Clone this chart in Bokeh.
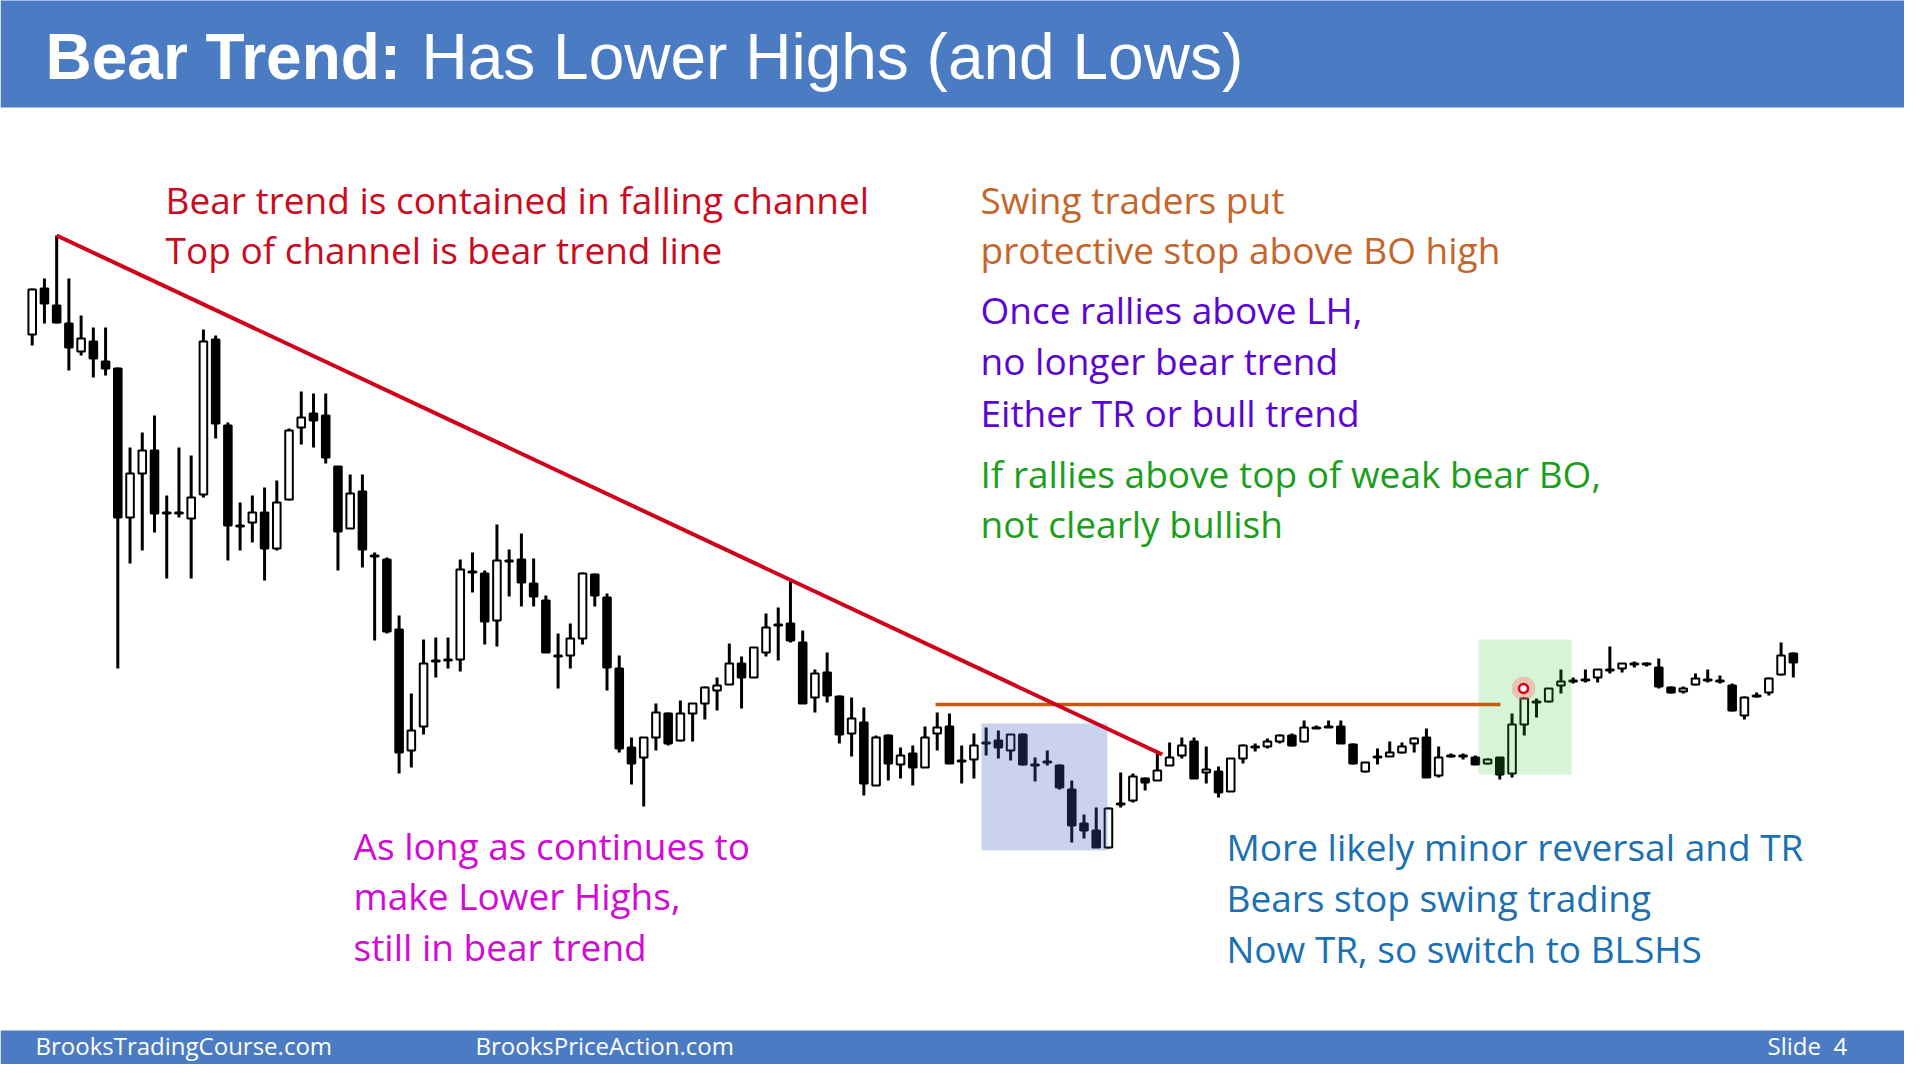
from bokeh.plotting import figure
from bokeh.models import Range1d, ColumnDataSource
from bokeh.embed import file_html
from bokeh.resources import INLINE
from bokeh.core.properties import value

# ---------------- data (bar number, OHLC in price points) ----------------
bars = list(range(1, 146))
opens = [666, 712, 695, 677, 649, 659, 639, 632, 483, 527,
         550, 488, 488, 482, 506, 661, 575, 475, 478, 488,
         452, 501, 573, 587, 585, 534, 472, 509, 445, 441,
         371, 250, 274, 340, 340, 341, 429, 427, 380, 440,
         441, 417, 400, 345, 345, 362, 426, 403, 332, 253,
         243, 263, 287, 260, 287, 297, 310, 316, 337, 323,
         348, 375, 377, 358, 303, 328, 304, 267, 278, 215,
         265, 236, 247, 233, 267, 274, 240, 241, 258, 260,
         250, 266, 236, 239, 235, 211, 177, 170, 153, 197,
         200, 222, 220, 235, 245, 259, 228, 229, 209, 242,
         254, 254, 259, 265, 259, 273, 274, 274, 256, 229,
         244, 244, 248, 257, 263, 225, 245, 245, 243, 237,
         243, 227, 276, 299, 299, 315, 320, 321, 323, 331,
         332, 337, 337, 333, 313, 309, 316, 321, 320, 315,
         285, 305, 308, 326, 347]
highs = [712, 722, 765, 722, 685, 673, 673, 633, 553, 568,
         585, 505, 553, 545, 671, 665, 578, 498, 505, 513,
         520, 572, 609, 607, 607, 534, 526, 526, 448, 443,
         385, 307, 361, 363, 363, 441, 448, 430, 476, 451,
         467, 442, 405, 367, 377, 428, 427, 407, 345, 263,
         263, 297, 288, 300, 297, 314, 323, 357, 344, 353,
         387, 393, 419, 370, 331, 348, 305, 303, 293, 265,
         266, 253, 255, 274, 288, 287, 255, 267, 273, 270,
         266, 267, 243, 250, 236, 220, 186, 193, 193, 228,
         227, 223, 247, 258, 263, 263, 254, 234, 242, 256,
         257, 262, 266, 267, 280, 275, 280, 280, 257, 238,
         252, 259, 258, 263, 272, 254, 247, 247, 245, 242,
         243, 287, 303, 302, 312, 331, 323, 331, 331, 354,
         337, 339, 338, 342, 314, 314, 327, 331, 325, 317,
         304, 308, 323, 358, 348]
lows = [655, 677, 677, 630, 645, 623, 625, 332, 437, 450,
        468, 422, 483, 422, 503, 562, 440, 450, 458, 420,
        450, 500, 556, 553, 537, 430, 472, 433, 360, 367,
        227, 233, 266, 323, 332, 329, 408, 356, 354, 404,
        394, 394, 348, 312, 332, 356, 394, 310, 248, 216,
        194, 250, 255, 259, 259, 281, 290, 316, 292, 323,
        344, 340, 358, 297, 288, 298, 257, 244, 205, 215,
        220, 222, 215, 233, 250, 237, 217, 222, 245, 242,
        240, 235, 219, 235, 211, 158, 162, 153, 152, 193,
        198, 210, 220, 235, 242, 222, 217, 203, 209, 237,
        249, 252, 257, 254, 258, 272, 273, 257, 236, 228,
        236, 244, 247, 248, 223, 223, 243, 241, 236, 236,
        221, 223, 265, 283, 298, 307, 317, 318, 318, 327,
        328, 333, 334, 312, 307, 307, 315, 318, 317, 289,
        281, 303, 305, 325, 323]
closes = [711, 697, 678, 653, 662, 642, 632, 483, 527, 550,
          487, 487, 487, 503, 659, 577, 475, 474, 488, 452,
          498, 570, 583, 580, 543, 469, 507, 451, 444, 369,
          248, 270, 337, 339, 341, 431, 428, 379, 440, 439,
          418, 404, 348, 344, 362, 427, 405, 333, 252, 237,
          263, 288, 257, 287, 297, 313, 315, 337, 323, 353,
          373, 376, 360, 297, 327, 305, 266, 282, 217, 263,
          237, 245, 233, 263, 273, 237, 239, 255, 257, 253,
          266, 236, 235, 238, 213, 175, 170, 153, 192, 196,
          224, 218, 230, 243, 255, 222, 231, 208, 242, 255,
          253, 259, 265, 255, 273, 272, 273, 257, 237, 238,
          243, 248, 254, 262, 223, 243, 244, 244, 236, 241,
          226, 276, 302, 298, 312, 319, 319, 320, 331, 330,
          337, 336, 336, 314, 308, 312, 322, 320, 319, 290,
          303, 304, 322, 345, 338]

# annotations on the chart (bar / price units)
trend_x = [3, 93.4]
trend_y = [765, 246]
stop_x = [74.86, 121.05]
stop_y = [296, 296]
blue_zone = dict(left=78.62, right=88.92, bottom=150, top=277)
green_zone = dict(left=119.26, right=126.86, bottom=226, top=361)
marker_bar, marker_price = [122.94], [312]

title_bold = "Bear Trend:"
title_rest = "Has Lower Highs (and Lows)"
notes = [
    (["Bear trend is contained in falling channel", "Top of channel is bear trend line"], "#cc0a1e"),
    (["Swing traders put", "protective stop above BO high"], "#c5652a"),
    (["Once rallies above LH,", "no longer bear trend", "Either TR or bull trend"], "#5a05d2"),
    (["If rallies above top of weak bear BO,", "not clearly bullish"], "#1c9e1c"),
    (["As long as continues to", "make Lower Highs,", "still in bear trend"], "#d10ad6"),
    (["More likely minor reversal and TR", "Bears stop swing trading", "Now TR, so switch to BLSHS"], "#1a70b2"),
]
footer_texts = ["BrooksTradingCourse.com", "BrooksPriceAction.com", "Slide\u00a0\u00a04"]

# ---------------- figure ----------------
BLUE = "#4a7bc3"
FONT = "Open Sans"
W, H = 1904, 1064

p = figure(width=W, height=H, output_backend="svg", toolbar_location=None,
           x_axis_type=None, y_axis_type=None,
           x_range=Range1d((0 - 19.47) / 12.23, (W - 19.47) / 12.23),
           y_range=Range1d(1000 - H, 1000),
           min_border=0, outline_line_color=None, background_fill_color="white")
p.grid.visible = False
# slide layout coordinates (pixels, y downward)
p.extra_x_ranges = {"sx": Range1d(0, W)}
p.extra_y_ranges = {"sy": Range1d(H, 0)}

# header / footer bands
p.quad(left=[0], right=[1920], top=[-5], bottom=[107], fill_color=BLUE, line_color=None,
       x_range_name="sx", y_range_name="sy")
p.quad(left=[0], right=[1920], top=[1030], bottom=[1085], fill_color=BLUE, line_color=None,
       x_range_name="sx", y_range_name="sy")

p.text(x=[45], y=[56], text=[title_bold], text_font=value("Liberation Sans"), text_font_style="bold",
       text_font_size="64px", text_color="white", text_baseline="alphabetic",
       x_range_name="sx", y_range_name="sy")
p.text(x=[421], y=[56], text=[title_rest], text_font=value("Liberation Sans"),
       text_font_size="64px", text_color="white", text_baseline="alphabetic",
       x_range_name="sx", y_range_name="sy")

# candles
src = ColumnDataSource(dict(
    x=bars, o=opens, h=highs, l=lows, c=closes,
    top=[max(o, c) for o, c in zip(opens, closes)],
    bottom=[min(o, c) for o, c in zip(opens, closes)],
    fill=["white" if c > o else "black" for o, c in zip(opens, closes)],
))
p.segment(x0="x", y0="l", x1="x", y1="h", line_color="black", line_width=3, source=src)
p.vbar(x="x", width=0.62, top="top", bottom="bottom", fill_color="fill",
       line_color="black", line_width=2, source=src)

# shaded zones (over the candles)
p.quad(fill_color="#3f5fbf", fill_alpha=0.28, line_color=None, **{k: [v] for k, v in blue_zone.items()})
p.quad(fill_color="#33cc33", fill_alpha=0.2, line_color=None, **{k: [v] for k, v in green_zone.items()})

# lines
p.line(stop_x, stop_y, line_color="#c55a11", line_width=3.5)
p.line(trend_x, trend_y, line_color="#d0021b", line_width=4)

# cursor marker
p.scatter(marker_bar, marker_price, size=24, fill_color="#ff7070", fill_alpha=0.35, line_color=None)
p.scatter(marker_bar, marker_price, size=9, fill_color="white", line_color="#e0001b", line_width=2.5)

# note texts
layout = [(165, [199, 249]), (980, [199, 249]), (980, [309, 360, 412]),
          (980, [473, 523]), (353, [845, 895, 946]), (1226, [846, 897, 948])]
for (lines, color), (lx, ys) in zip(notes, layout):
    p.text(x=[lx] * len(lines), y=ys, text=lines, text_font=value(FONT), text_font_size="37px",
           text_color=color, text_baseline="alphabetic", x_range_name="sx", y_range_name="sy")

# footer texts
p.text(x=[35, 475, 1767], y=[1045, 1045, 1045], text=footer_texts, text_font=value(FONT),
       text_font_size="24px", text_color="white", text_baseline="alphabetic",
       x_range_name="sx", y_range_name="sy")

open("out.html", "w").write(file_html(p, INLINE))
